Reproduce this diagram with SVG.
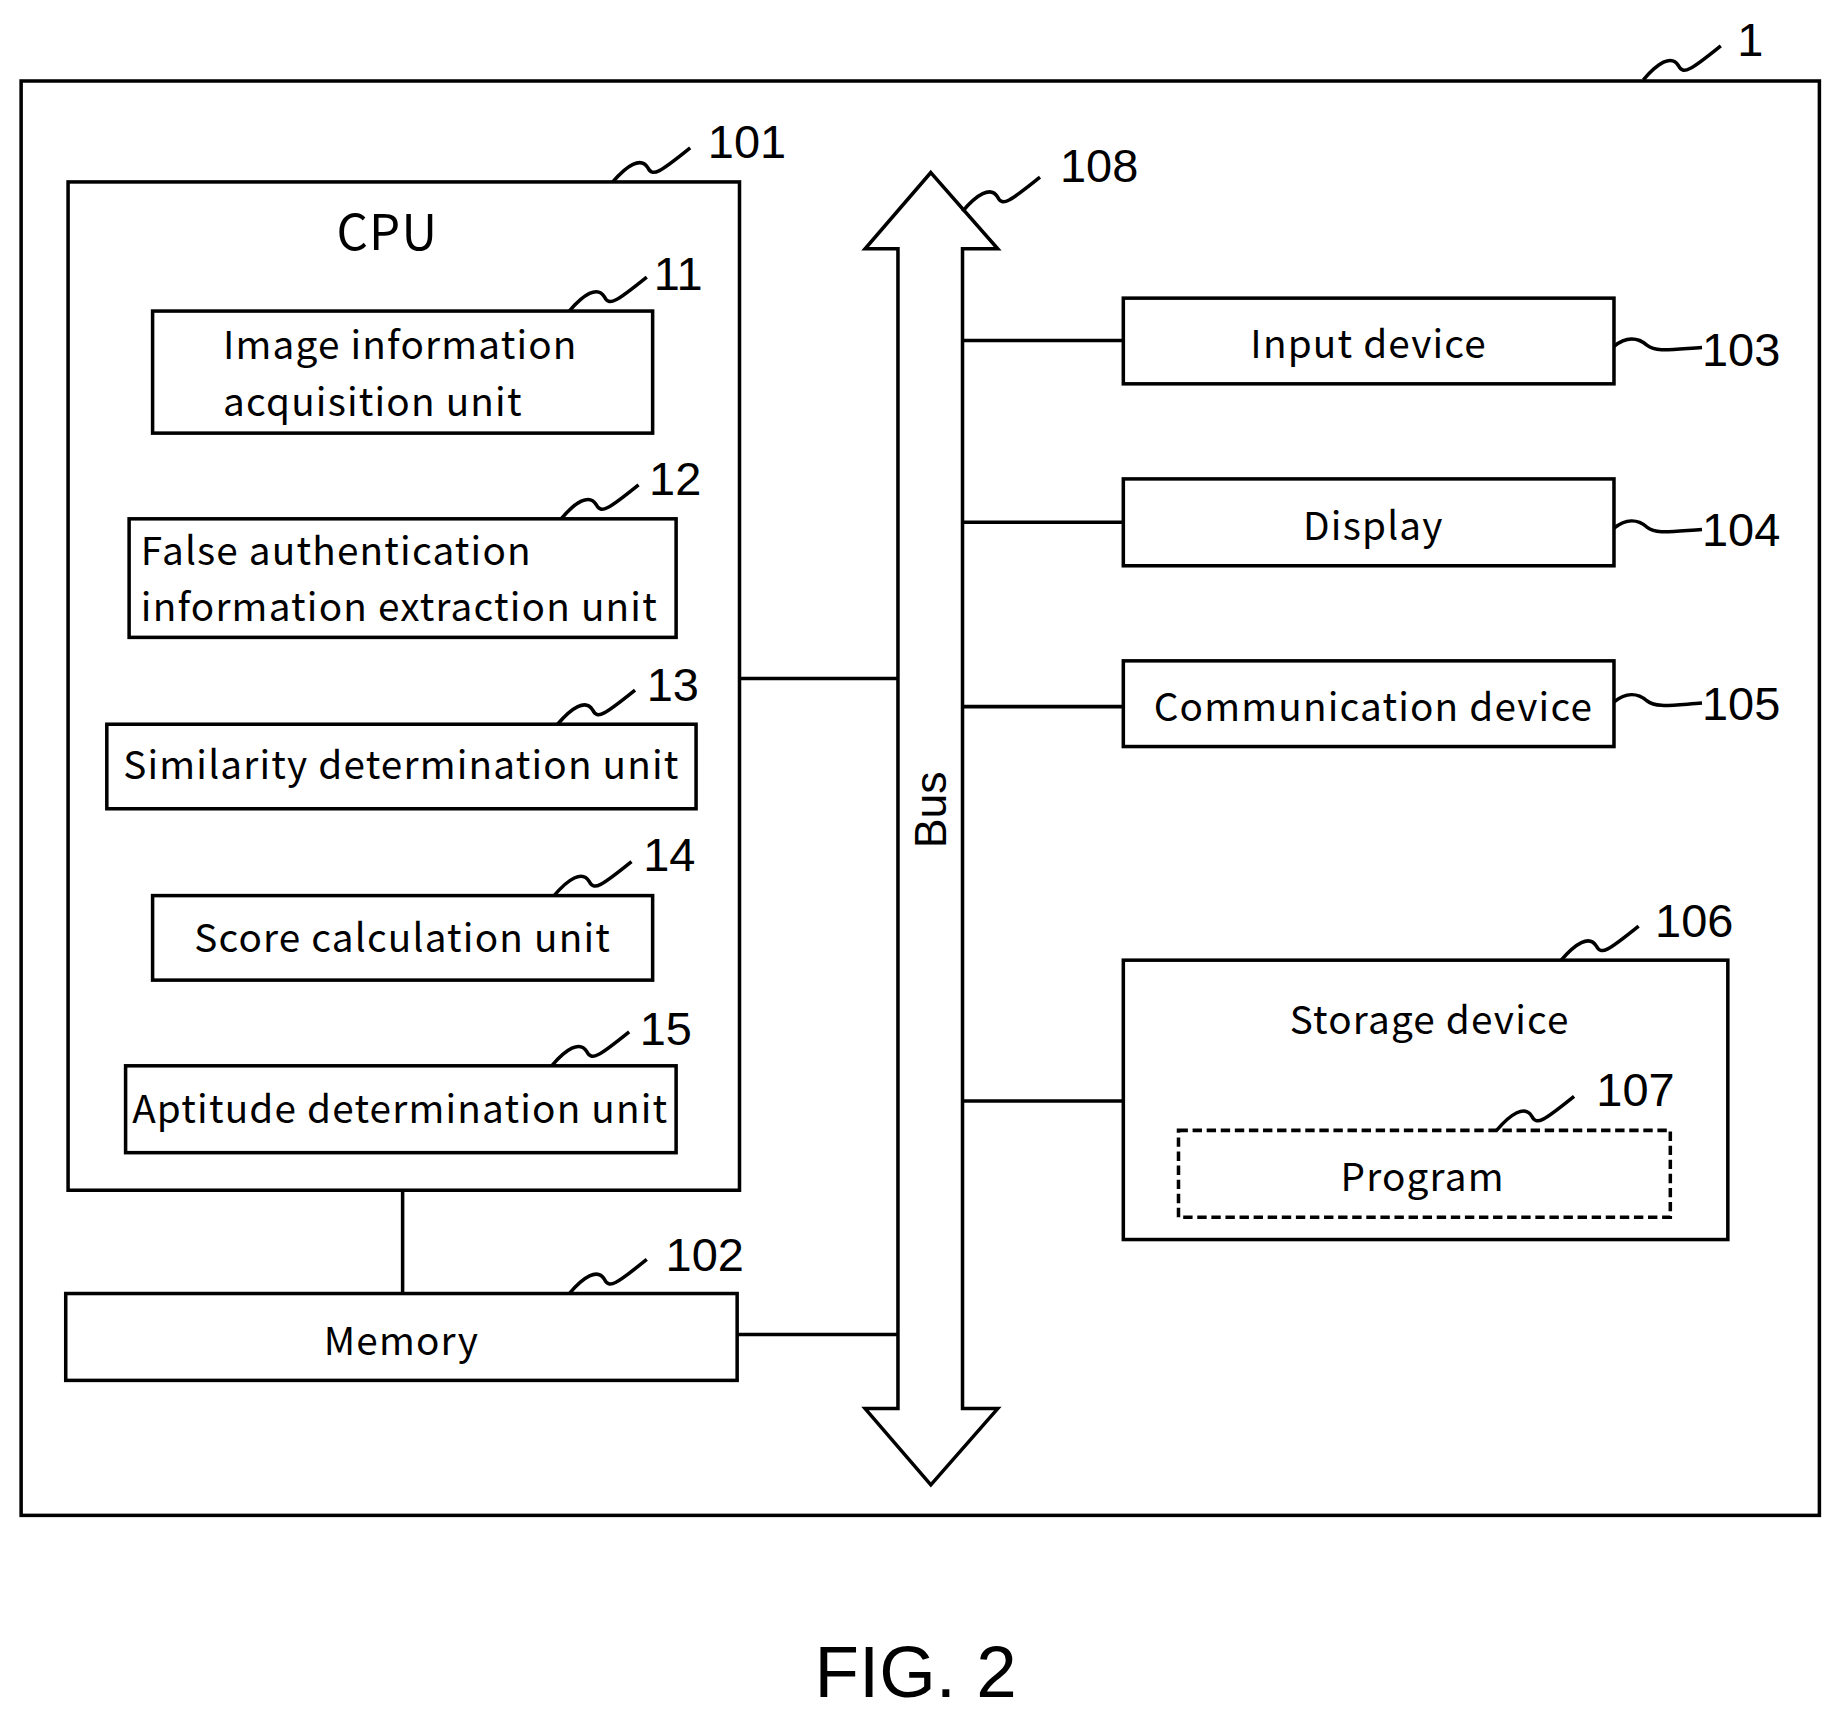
<svg xmlns="http://www.w3.org/2000/svg" width="1837" height="1714" viewBox="0 0 1837 1714">
<style>
.b{fill:#fff;stroke:#000;stroke-width:3}
.l{fill:none;stroke:#000;stroke-width:3}
.t{font-family:"Noto Sans CJK JP","Liberation Sans",sans-serif;font-size:33px;fill:#000;letter-spacing:1px}
.n{font-family:"Liberation Sans",sans-serif;font-size:40px;fill:#000}
</style>
<defs>
<path id="ld" d="M0,0 C12,-14 24,-22 30,-12 C34,-4 40,-8 66,-29" fill="none" stroke="#000" stroke-width="3"/>
<path id="lh" d="M0,0 C10,-8 20,-8 28,-1 C36,5 46,3 75,1" fill="none" stroke="#000" stroke-width="3"/>
</defs>
<rect width="1837" height="1714" fill="#fff"/>
<g transform="scale(1.1738)">
<g id="n1"><rect class="b" x="18" y="69" width="1532" height="1222"/><use href="#ld" x="1400" y="68"/><text class="n" x="1480" y="48">1</text></g>
<g id="connectors">
<line class="l" x1="343" y1="369" x2="343" y2="1102"/>
<line class="l" x1="630" y1="578" x2="765" y2="578"/>
<line class="l" x1="628" y1="1137" x2="765" y2="1137"/>
<line class="l" x1="820" y1="290" x2="957" y2="290"/>
<line class="l" x1="820" y1="445" x2="957" y2="445"/>
<line class="l" x1="820" y1="602" x2="957" y2="602"/>
<line class="l" x1="820" y1="938" x2="957" y2="938"/>
</g>
<g id="n101"><rect class="b" x="58" y="155" width="572" height="859" fill="none"/><text class="t" x="330" y="213" text-anchor="middle" style="font-size:42px">CPU</text><use href="#ld" x="522" y="155"/><text class="n" x="603" y="135">101</text></g>
<g id="n11"><rect class="b" x="130" y="265" width="426" height="104"/><text class="t" x="190" y="306">Image information</text><text class="t" x="190" y="354">acquisition unit</text><use href="#ld" x="485" y="265"/><text class="n" x="557" y="247">11</text></g>
<g id="n12"><rect class="b" x="110" y="442" width="466" height="101"/><text class="t" x="120" y="481">False authentication</text><text class="t" x="120" y="529">information extraction unit</text><use href="#ld" x="478" y="442"/><text class="n" x="553" y="422">12</text></g>
<g id="n13"><rect class="b" x="91" y="617" width="502" height="72"/><text class="t" x="342" y="664" text-anchor="middle">Similarity determination unit</text><use href="#ld" x="475" y="617"/><text class="n" x="551" y="597">13</text></g>
<g id="n14"><rect class="b" x="130" y="763" width="426" height="72"/><text class="t" x="343" y="811" text-anchor="middle">Score calculation unit</text><use href="#ld" x="472" y="763"/><text class="n" x="548" y="742">14</text></g>
<g id="n15"><rect class="b" x="107" y="908" width="469" height="74"/><text class="t" x="341" y="957" text-anchor="middle">Aptitude determination unit</text><use href="#ld" x="470" y="908"/><text class="n" x="545" y="890">15</text></g>
<g id="n102"><rect class="b" x="56" y="1102" width="572" height="74"/><text class="t" x="342" y="1154" text-anchor="middle">Memory</text><use href="#ld" x="485" y="1102"/><text class="n" x="567" y="1083">102</text></g>
<g id="n108"><path class="b" d="M793,147 L850,212 L820,212 L820,1200 L850,1200 L793,1265 L737,1200 L765,1200 L765,212 L737,212 Z"/><text class="n" x="806" y="690" text-anchor="middle" style="font-size:38px" transform="rotate(-90 806 690)">Bus</text><use href="#ld" x="820" y="180"/><text class="n" x="903" y="155">108</text></g>
<g id="n103"><rect class="b" x="957" y="254" width="418" height="73"/><text class="t" x="1166" y="305" text-anchor="middle">Input device</text><use href="#lh" x="1375" y="295"/><text class="n" x="1450" y="312">103</text></g>
<g id="n104"><rect class="b" x="957" y="408" width="418" height="74"/><text class="t" x="1170" y="460" text-anchor="middle">Display</text><use href="#lh" x="1375" y="450"/><text class="n" x="1450" y="465">104</text></g>
<g id="n105"><rect class="b" x="957" y="563" width="418" height="73"/><text class="t" x="1170" y="614" text-anchor="middle">Communication device</text><use href="#lh" x="1375" y="598"/><text class="n" x="1450" y="613">105</text></g>
<g id="n106"><rect class="b" x="957" y="818" width="515" height="238"/><text class="t" x="1218" y="881" text-anchor="middle">Storage device</text><use href="#ld" x="1330" y="818"/><text class="n" x="1410" y="798">106</text></g>
<g id="n107"><rect class="b" x="1004" y="963" width="419" height="74" stroke-dasharray="8 4" stroke-width="4"/><text class="t" x="1212" y="1015" text-anchor="middle">Program</text><use href="#ld" x="1275" y="963"/><text class="n" x="1360" y="942">107</text></g>
<text class="n" x="780" y="1446" text-anchor="middle" style="font-size:62px">FIG. 2</text>
</g>
</svg>
